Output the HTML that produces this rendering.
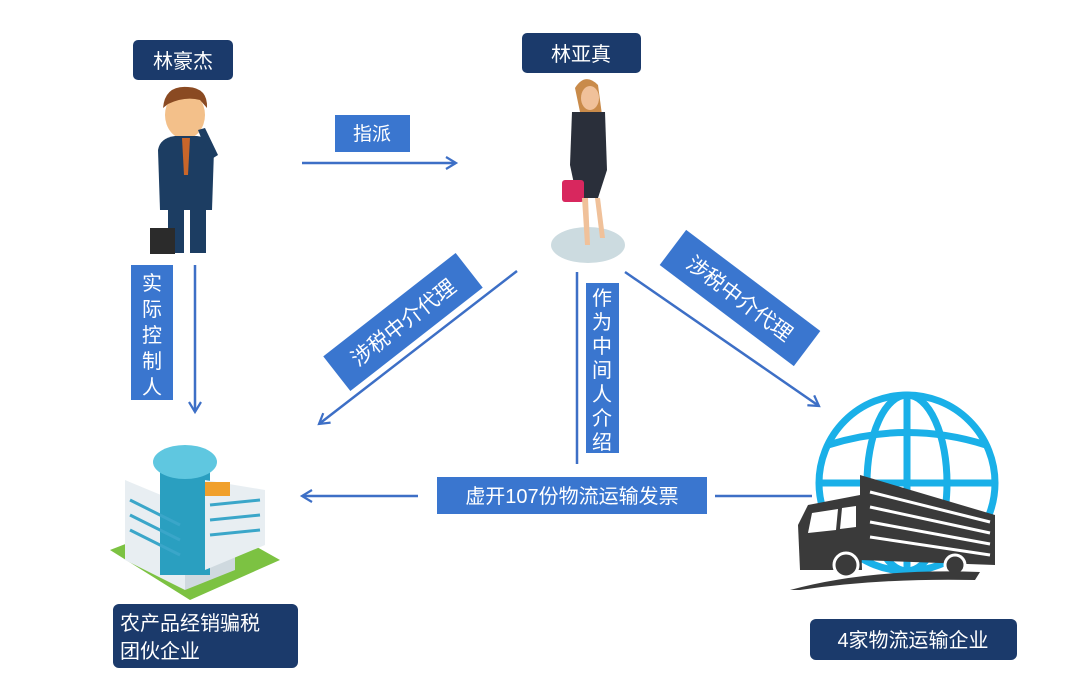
<!DOCTYPE html>
<html><head><meta charset="utf-8"><style>
html,body{margin:0;padding:0;background:#fff;}
svg{display:block;}
text{font-family:"Liberation Sans","Noto Sans CJK SC",sans-serif;fill:#fff;}
</style></head><body>
<svg width="1066" height="682" viewBox="0 0 1066 682" xmlns="http://www.w3.org/2000/svg">
<defs>
<marker id="ah" markerWidth="14" markerHeight="14" refX="11" refY="7" orient="auto" markerUnits="userSpaceOnUse">
<path d="M1,1 L11,7 L1,13" fill="none" stroke="#3d6fc6" stroke-width="2.2"/>
</marker>
</defs>
<g stroke="#3d6fc6" stroke-width="2.5" fill="none">
<line x1="302" y1="163" x2="456" y2="163" marker-end="url(#ah)"/>
<line x1="195" y1="265" x2="195" y2="412" marker-end="url(#ah)"/>
<line x1="517" y1="271" x2="319" y2="424" marker-end="url(#ah)"/>
<line x1="625" y1="272" x2="819" y2="406" marker-end="url(#ah)"/>
<line x1="577" y1="272" x2="577" y2="464"/>
<line x1="418" y1="496" x2="302" y2="496" marker-end="url(#ah)"/>
<line x1="715" y1="496" x2="812" y2="496"/>
</g>
<!-- labels -->
<rect x="133" y="40" width="100" height="40" rx="5" fill="#1b3a6b"/>
<text x="183" y="68" font-size="20" text-anchor="middle">林豪杰</text>
<rect x="522" y="33" width="119" height="40" rx="5" fill="#1b3a6b"/>
<text x="581" y="61" font-size="20" text-anchor="middle">林亚真</text>
<rect x="335" y="115" width="75" height="37" fill="#3a76cf"/>
<text x="372" y="140" font-size="19" text-anchor="middle">指派</text>
<rect x="131" y="265" width="42" height="135" fill="#3a76cf"/>
<text font-size="20" text-anchor="middle"><tspan x="152" y="290">实</tspan><tspan x="152" y="316">际</tspan><tspan x="152" y="342">控</tspan><tspan x="152" y="368">制</tspan><tspan x="152" y="394">人</tspan></text>
<g transform="translate(403,322) rotate(-38)">
<rect x="-84" y="-22" width="168" height="44" fill="#3a76cf"/>
<text x="0" y="8" font-size="21" text-anchor="middle">涉税中介代理</text>
</g>
<g transform="translate(740,298) rotate(37)">
<rect x="-84" y="-22" width="168" height="44" fill="#3a76cf"/>
<text x="0" y="8" font-size="21" text-anchor="middle">涉税中介代理</text>
</g>
<rect x="586" y="283" width="33" height="170" fill="#3a76cf"/>
<text font-size="20" text-anchor="middle"><tspan x="602" y="305">作</tspan><tspan x="602" y="329">为</tspan><tspan x="602" y="353">中</tspan><tspan x="602" y="377">间</tspan><tspan x="602" y="401">人</tspan><tspan x="602" y="425">介</tspan><tspan x="602" y="449">绍</tspan></text>
<rect x="437" y="477" width="270" height="37" fill="#3a76cf"/>
<text x="572" y="503" font-size="20" text-anchor="middle">虚开107份物流运输发票</text>
<rect x="113" y="604" width="185" height="64" rx="6" fill="#1b3a6b"/>
<text font-size="20"><tspan x="120" y="630">农产品经销骗税</tspan><tspan x="120" y="658">团伙企业</tspan></text>
<rect x="810" y="619" width="207" height="41" rx="6" fill="#1b3a6b"/>
<text x="913" y="647" font-size="20" text-anchor="middle">4家物流运输企业</text>
<!-- man -->
<ellipse cx="185" cy="115" rx="20" ry="24" fill="#f3c08a"/>
<path d="M163,108 Q165,85 188,87 Q208,88 207,108 L200,100 Q185,96 168,104 Z" fill="#8a4a22"/>
<path d="M158,150 Q160,138 175,136 L197,136 Q212,138 214,150 L212,210 L160,210 Z" fill="#1c3d62"/>
<path d="M182,138 L190,138 L188,175 L184,175 Z" fill="#c9662a"/>
<path d="M205,128 L218,155 L210,160 L198,130 Z" fill="#1c3d62"/>
<rect x="168" y="205" width="16" height="48" fill="#1c3d62"/>
<rect x="190" y="205" width="16" height="48" fill="#1c3d62"/>
<rect x="150" y="228" width="25" height="26" fill="#2b2b2b"/>
<!-- woman -->
<ellipse cx="588" cy="245" rx="37" ry="18" fill="#ccdbe0"/>
<path d="M575,88 Q585,72 598,85 L602,115 L580,112 Z" fill="#c98b4a"/>
<ellipse cx="590" cy="98" rx="9" ry="12" fill="#f0c19a"/>
<path d="M572,112 L605,112 L607,170 L598,198 L577,198 L570,165 Z" fill="#2a2f3a"/>
<rect x="562" y="180" width="22" height="22" rx="3" fill="#d8275e"/>
<path d="M582,198 L585,245 L590,245 L588,198 Z M595,198 L600,238 L605,238 L600,198 Z" fill="#f0c19a"/>
<!-- building -->
<path d="M110,550 L190,600 L280,560 L200,515 Z" fill="#7cc242"/>
<path d="M125,480 L125,560 L185,590 L185,505 Z" fill="#e8eef2"/>
<path d="M185,505 L185,590 L235,570 L235,490 Z" fill="#cfd9df"/>
<rect x="160" y="455" width="50" height="120" fill="#2a9fc0"/>
<ellipse cx="185" cy="462" rx="32" ry="17" fill="#5fc7e0"/>
<path d="M205,480 L205,570 L265,545 L265,490 Z" fill="#e8eef2"/>
<rect x="205" y="482" width="25" height="14" fill="#f0a02c"/>
<g stroke="#3aa6c9" stroke-width="3"><line x1="130" y1="500" x2="180" y2="525"/><line x1="130" y1="515" x2="180" y2="540"/><line x1="130" y1="530" x2="180" y2="555"/><line x1="210" y1="505" x2="260" y2="500"/><line x1="210" y1="520" x2="260" y2="515"/><line x1="210" y1="535" x2="260" y2="530"/></g>
<!-- globe -->
<g fill="none" stroke="#1ab0e8" stroke-width="7">
<circle cx="907" cy="483" r="88"/>
<ellipse cx="907" cy="483" rx="40" ry="88"/>
<line x1="907" y1="395" x2="907" y2="571"/>
<path d="M828,445 Q907,420 986,445"/>
<path d="M822,483 L992,483"/>
</g>
<!-- truck -->
<path d="M860,475 L995,515 L995,565 L860,560 Z" fill="#3a3a3a"/>
<g stroke="#fff" stroke-width="3"><line x1="870" y1="492" x2="990" y2="522"/><line x1="870" y1="507" x2="990" y2="533"/><line x1="870" y1="522" x2="990" y2="544"/><line x1="870" y1="537" x2="990" y2="555"/></g>
<path d="M808,505 L860,495 L862,570 L800,570 L798,525 Z" fill="#3a3a3a"/>
<path d="M812,513 L838,509 L836,530 L808,533 Z M842,508 L856,506 L856,527 L840,529 Z" fill="#fff"/>
<circle cx="846" cy="565" r="12" fill="#3a3a3a" stroke="#fff" stroke-width="3"/>
<circle cx="955" cy="565" r="10" fill="#3a3a3a" stroke="#fff" stroke-width="3"/>
<path d="M790,590 Q870,568 980,572 L975,580 Q880,578 800,590 Z" fill="#3a3a3a"/>
</svg>
</body></html>
